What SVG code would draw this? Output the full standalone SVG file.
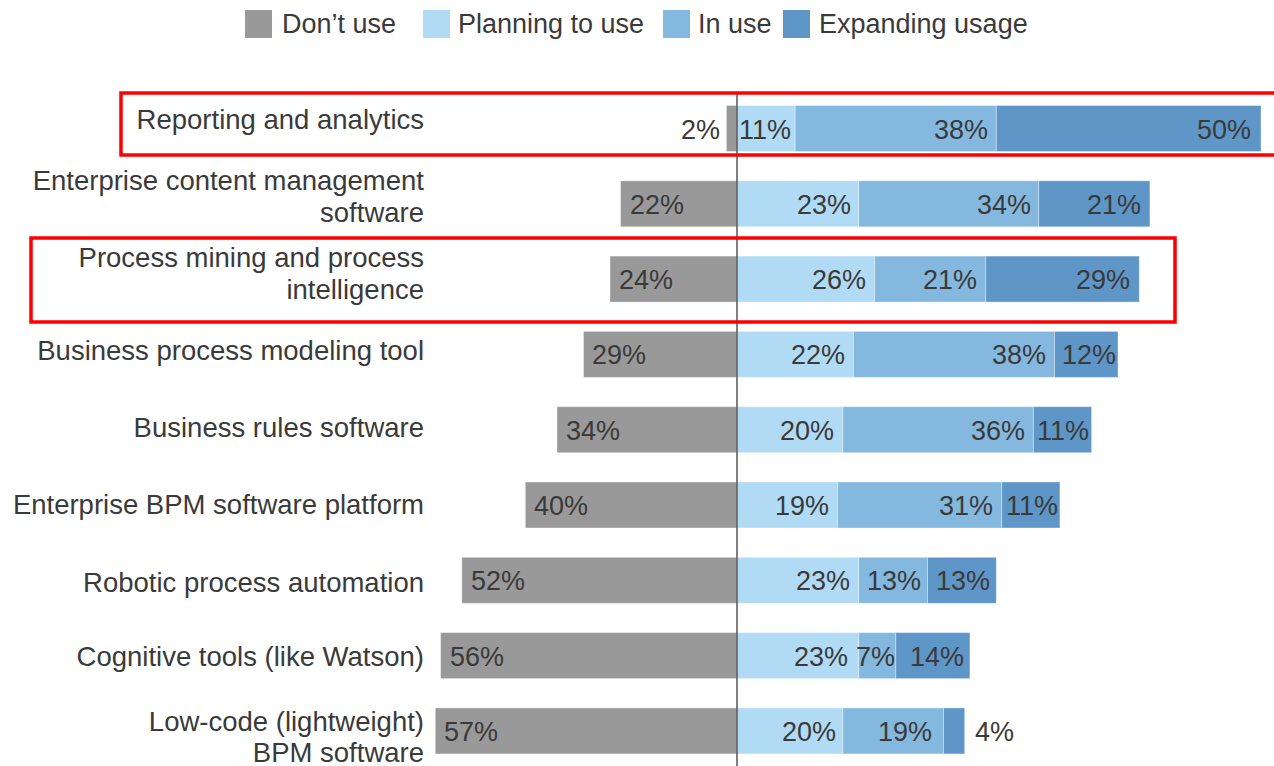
<svg xmlns="http://www.w3.org/2000/svg" width="1274" height="766" viewBox="0 0 1274 766">
<style>
text{font-family:"Liberation Sans",Arial,sans-serif;font-size:27px;fill:#3a3a3a}
.lbl{text-anchor:end;font-size:27.5px}
.e{text-anchor:end}
.d{fill:#999999}
.p{fill:#b1dbf5}
.u{fill:#85b8df}
.x{fill:#5f96c8}
.bar rect{stroke:#ffffff;stroke-opacity:0.35;stroke-width:1}
.hl{fill:none;stroke:#ff0000;stroke-width:3.5}
</style>
<rect width="1274" height="766" fill="#ffffff"/>
<g id="legend">
<rect class="d" x="245" y="10" width="27" height="28"/><text x="282" y="33">Don’t use</text>
<rect class="p" x="423" y="10" width="27" height="28"/><text x="458" y="33">Planning to use</text>
<rect class="u" x="663" y="10" width="27" height="28"/><text x="698" y="33">In use</text>
<rect class="x" x="783" y="10" width="27" height="28"/><text x="819" y="33">Expanding usage</text>
</g>
<g id="row1" class="bar">
<text class="lbl" x="424" y="129">Reporting and analytics</text>
<rect class="d" x="726.4" y="105.5" width="10.6" height="46"/>
<rect class="p" x="737" y="105.5" width="58.2" height="46"/>
<rect class="u" x="795.2" y="105.5" width="201.1" height="46"/>
<rect class="x" x="996.3" y="105.5" width="264.7" height="46"/>
<text class="e" x="720" y="138.5">2%</text>
<text class="e" x="791" y="138.5">11%</text>
<text class="e" x="988" y="138.5">38%</text>
<text class="e" x="1251" y="138.5">50%</text>
</g>
<g id="row2" class="bar">
<text class="lbl" x="424" y="190">Enterprise content management</text>
<text class="lbl" x="424" y="222">software</text>
<rect class="d" x="620.6" y="180.8" width="116.4" height="46"/>
<rect class="p" x="737" y="180.8" width="121.7" height="46"/>
<rect class="u" x="858.7" y="180.8" width="180" height="46"/>
<rect class="x" x="1038.7" y="180.8" width="111.2" height="46"/>
<text x="630" y="213.8">22%</text>
<text class="e" x="851" y="213.8">23%</text>
<text class="e" x="1031" y="213.8">34%</text>
<text class="e" x="1141" y="213.8">21%</text>
</g>
<g id="row3" class="bar">
<text class="lbl" x="424" y="267">Process mining and process</text>
<text class="lbl" x="424" y="299">intelligence</text>
<rect class="d" x="610" y="256.1" width="127" height="46"/>
<rect class="p" x="737" y="256.1" width="137.6" height="46"/>
<rect class="u" x="874.6" y="256.1" width="111.2" height="46"/>
<rect class="x" x="985.8" y="256.1" width="153.5" height="46"/>
<text x="619" y="289.1">24%</text>
<text class="e" x="866" y="289.1">26%</text>
<text class="e" x="977" y="289.1">21%</text>
<text class="e" x="1130" y="289.1">29%</text>
</g>
<g id="row4" class="bar">
<text class="lbl" x="424" y="360">Business process modeling tool</text>
<rect class="d" x="583.5" y="331.4" width="153.5" height="46"/>
<rect class="p" x="737" y="331.4" width="116.4" height="46"/>
<rect class="u" x="853.4" y="331.4" width="201.1" height="46"/>
<rect class="x" x="1054.5" y="331.4" width="63.5" height="46"/>
<text x="592" y="364.4">29%</text>
<text class="e" x="845" y="364.4">22%</text>
<text class="e" x="1046" y="364.4">38%</text>
<text class="e" x="1116" y="364.4">12%</text>
</g>
<g id="row5" class="bar">
<text class="lbl" x="424" y="437">Business rules software</text>
<rect class="d" x="557" y="406.7" width="180" height="46"/>
<rect class="p" x="737" y="406.7" width="105.9" height="46"/>
<rect class="u" x="842.9" y="406.7" width="190.5" height="46"/>
<rect class="x" x="1033.4" y="406.7" width="58.2" height="46"/>
<text x="566" y="439.7">34%</text>
<text class="e" x="834" y="439.7">20%</text>
<text class="e" x="1025" y="439.7">36%</text>
<text class="e" x="1089" y="439.7">11%</text>
</g>
<g id="row6" class="bar">
<text class="lbl" x="424" y="514">Enterprise BPM software platform</text>
<rect class="d" x="525.3" y="482" width="211.7" height="46"/>
<rect class="p" x="737" y="482" width="100.6" height="46"/>
<rect class="u" x="837.6" y="482" width="164.1" height="46"/>
<rect class="x" x="1001.7" y="482" width="58.2" height="46"/>
<text x="534" y="515">40%</text>
<text class="e" x="829" y="515">19%</text>
<text class="e" x="993" y="515">31%</text>
<text class="e" x="1058" y="515">11%</text>
</g>
<g id="row7" class="bar">
<text class="lbl" x="424" y="592">Robotic process automation</text>
<rect class="d" x="461.8" y="557.3" width="275.2" height="46"/>
<rect class="p" x="737" y="557.3" width="121.7" height="46"/>
<rect class="u" x="858.7" y="557.3" width="68.8" height="46"/>
<rect class="x" x="927.5" y="557.3" width="68.8" height="46"/>
<text x="471" y="590.3">52%</text>
<text class="e" x="850" y="590.3">23%</text>
<text class="e" x="921" y="590.3">13%</text>
<text class="e" x="990" y="590.3">13%</text>
</g>
<g id="row8" class="bar">
<text class="lbl" x="424" y="666">Cognitive tools (like Watson)</text>
<rect class="d" x="440.6" y="632.6" width="296.4" height="46"/>
<rect class="p" x="737" y="632.6" width="121.7" height="46"/>
<rect class="u" x="858.7" y="632.6" width="37.1" height="46"/>
<rect class="x" x="895.8" y="632.6" width="74.1" height="46"/>
<text x="450" y="665.6">56%</text>
<text class="e" x="848" y="665.6">23%</text>
<text class="e" x="895" y="665.6">7%</text>
<text class="e" x="964" y="665.6">14%</text>
</g>
<g id="row9" class="bar">
<text class="lbl" x="424" y="731">Low-code (lightweight)</text>
<text class="lbl" x="424" y="762">BPM software</text>
<rect class="d" x="435.3" y="707.9" width="301.7" height="46"/>
<rect class="p" x="737" y="707.9" width="105.9" height="46"/>
<rect class="u" x="842.9" y="707.9" width="100.6" height="46"/>
<rect class="x" x="943.5" y="707.9" width="21.2" height="46"/>
<text x="444" y="740.9">57%</text>
<text class="e" x="836" y="740.9">20%</text>
<text class="e" x="932" y="740.9">19%</text>
<text x="975" y="740.9">4%</text>
</g>
<g id="connectors">
<line x1="737" y1="94" x2="737" y2="766" stroke="#555555" stroke-width="1.5"/>
</g>
<g id="highlights">
<rect class="hl" x="121" y="93" width="1160" height="62"/>
<rect class="hl" x="31" y="238" width="1144" height="84"/>
</g>
</svg>
